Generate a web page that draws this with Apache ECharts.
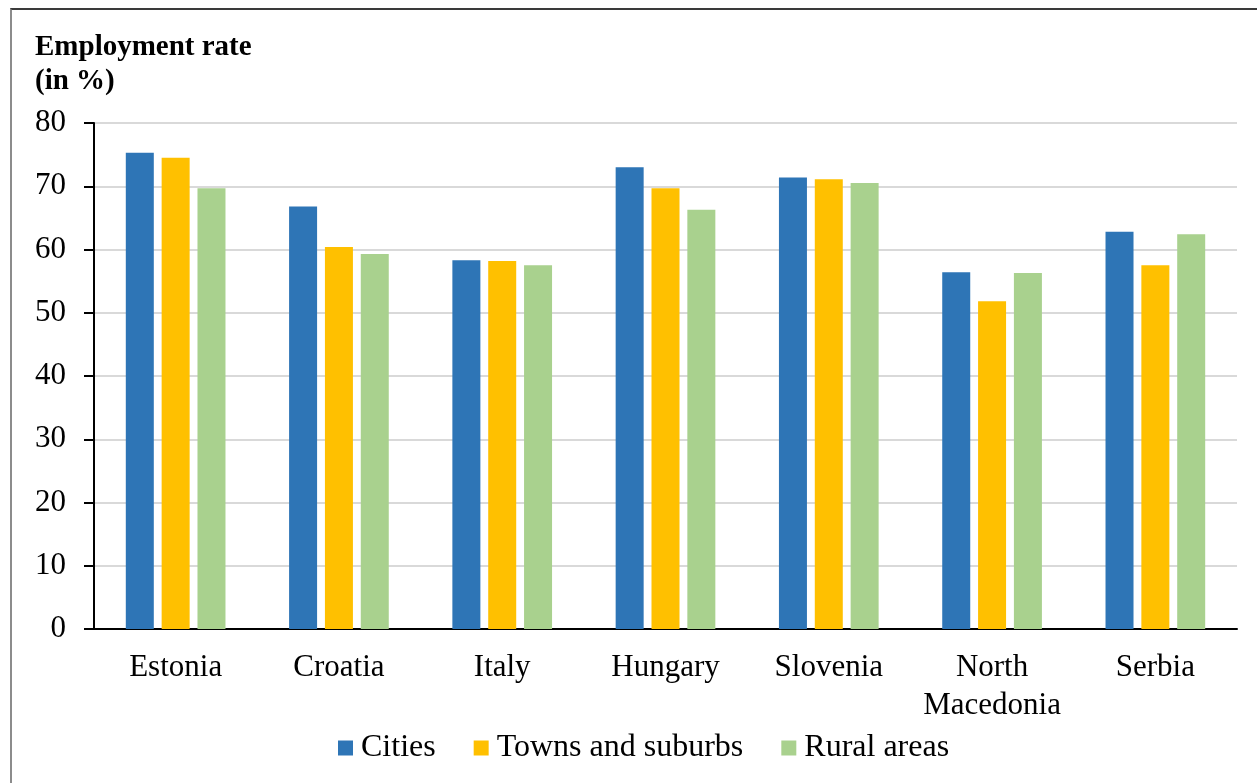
<!DOCTYPE html>
<html>
<head>
<meta charset="utf-8">
<script src="https://cdn.jsdelivr.net/npm/echarts@6/dist/echarts.min.js"></script>
<style>
  html, body { margin: 0; padding: 0; background: #fff; }
  #chart { width: 1257px; height: 783px; }
  .frame {
    position: absolute; left: 10px; top: 8px; right: -10px; bottom: -10px;
    border-top: 2px solid #3a3a3a; border-left: 2px solid #8c8c8c;
    pointer-events: none;
  }
</style>
</head>
<body>
<div id="chart"></div>
<div class="frame"></div>
<script>
// employment rate by degree of urbanisation (%)
const countries = ['Estonia', 'Croatia', 'Italy', 'Hungary', 'Slovenia', 'North\nMacedonia', 'Serbia']
const cities = [75.3, 66.8, 58.3, 73.0, 71.4, 56.4, 62.8]
const towns = [74.5, 60.4, 58.2, 69.7, 71.1, 51.8, 57.5]
const rural = [69.7, 59.3, 57.5, 66.3, 70.5, 56.3, 62.4]

const serif = 'Liberation Serif, Times New Roman, serif'

const chart = echarts.init(document.getElementById('chart'))

const makeSeries = (name, data, color) => ({
  name,
  type: 'bar',
  data,
  barWidth: 28,
  barGap: '28%',
  itemStyle: { color },
  animation: false
})

chart.setOption({
  animation: false,
  title: {
    text: 'Employment rate\n(in %)',
    left: 30,
    top: 26,
    textStyle: {
      fontFamily: serif,
      fontWeight: 'bold',
      fontSize: 29,
      lineHeight: 34,
      color: '#000'
    }
  },
  legend: {
    top: 726,
    left: 333,
    itemWidth: 15,
    itemHeight: 15,
    itemGap: 38,
    icon: 'rect',
    textStyle: {
      fontFamily: serif,
      fontSize: 32,
      lineHeight: 34,
      color: '#000',
      padding: [0, 0, 0, 3]
    },
    data: ['Cities', 'Towns and suburbs', 'Rural areas']
  },
  grid: {
    left: 94,
    right: 20,
    top: 123,
    bottom: 154
  },
  xAxis: {
    type: 'category',
    data: countries,
    axisLine: { lineStyle: { color: '#000', width: 2 } },
    axisTick: { show: false },
    axisLabel: {
      fontFamily: serif,
      fontSize: 31,
      lineHeight: 38,
      color: '#000',
      margin: 20,
      interval: 0
    }
  },
  yAxis: {
    type: 'value',
    min: 0,
    max: 80,
    interval: 10,
    axisLine: { show: true, lineStyle: { color: '#000', width: 2 } },
    axisTick: { show: true, length: 10, lineStyle: { color: '#000', width: 2 } },
    axisLabel: {
      fontFamily: serif,
      fontSize: 31,
      color: '#000',
      margin: 28,
      padding: [5, 0, 0, 0]
    },
    splitLine: { lineStyle: { color: '#d9d9d9', width: 2 } }
  },
  series: [
    makeSeries('Cities', cities, '#2E75B6'),
    makeSeries('Towns and suburbs', towns, '#FFC000'),
    makeSeries('Rural areas', rural, '#A9D18E')
  ]
})
</script>
</body>
</html>
